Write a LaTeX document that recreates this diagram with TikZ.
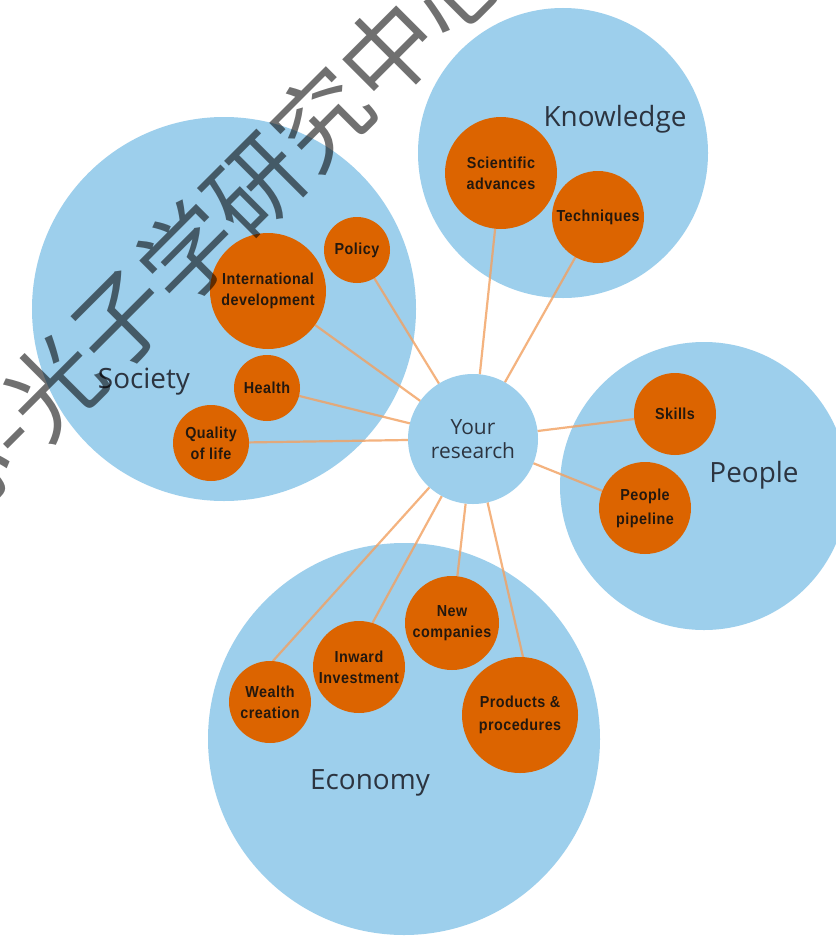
\documentclass[tikz,border=0pt]{standalone}
\usepackage{fontspec}
\setmainfont{Open Sans}
\newfontfamily\orfont{Liberation Sans}[FakeStretch=0.9,LetterSpace=3]
\newfontfamily\cjkfont{Noto Sans CJK SC}
\definecolor{skyb}{HTML}{9DCFEC}
\definecolor{orng}{HTML}{DC6400}
\definecolor{labc}{HTML}{24180E}
\definecolor{titc}{HTML}{2C3440}
\definecolor{lnk}{HTML}{F2A060}
\pgfdeclarelayer{paper}
\pgfdeclarelayer{back}
\pgfdeclarelayer{mid}
\pgfdeclarelayer{front}
\pgfsetlayers{paper,back,mid,main,front}
\begin{document}
\begin{tikzpicture}[x=1bp,y=-1bp,
  big/.style={circle,fill=skyb,draw=none,inner sep=0,outer sep=0},
  orb/.style={circle,fill=orng,draw=none,inner sep=0,outer sep=0},
  lab/.style={text=labc,font=\orfont\bfseries\fontsize{16}{21}\selectfont,align=center,inner sep=0},
  title/.style={text=titc,font=\fontsize{28}{32}\selectfont,inner sep=0,anchor=base},
  link/.style={draw=lnk,line width=2.2bp,draw opacity=0.8},
  wm/.style={font=\cjkfont\fontsize{95}{95}\selectfont,text=black,text opacity=0.56,inner sep=0,rotate=45}]
\useasboundingbox (0,0) rectangle (836,936);
\clip (0,0) rectangle (836,936);
\begin{pgfonlayer}{paper}
\fill[white] (0,0) rectangle (836,936);
\end{pgfonlayer}
% big circles
\begin{pgfonlayer}{back}
\node[big,minimum size=384bp] (society) at (224,309) {};
\node[big,minimum size=290bp] (knowledge) at (563,153) {};
\node[big,minimum size=288bp] (people) at (704,486) {};
\node[big,minimum size=392bp] (economy) at (404,739) {};
\end{pgfonlayer}
% centre
\node[big,minimum size=130bp,text=titc,font=\fontsize{21}{24}\selectfont,align=center] (res) at (473,439) {Your\\research};
% orange circles
\node[orb,minimum size=112bp,label={[lab]center:Scientific\\advances}] (sci) at (501,173) {};
\node[orb,minimum size=92bp,label={[lab]center:Techniques}] (tec) at (598,217) {};
\node[orb,minimum size=66bp,label={[lab]center:Policy}] (pol) at (357,250) {};
\node[orb,minimum size=116bp,label={[lab]center:International\\development}] (int) at (268,291) {};
\node[orb,minimum size=66bp,label={[lab]center:Health}] (hea) at (267,388) {};
\node[orb,minimum size=76bp,label={[lab]center:Quality\\of life}] (qol) at (211,443) {};
\node[orb,minimum size=82bp,label={[lab]center:Skills}] (ski) at (675,414) {};
\node[orb,minimum size=92bp,label={[lab,font=\orfont\bfseries\fontsize{16}{24}\selectfont]center:People\\pipeline}] (pip) at (645,508) {};
\node[orb,minimum size=82bp,label={[lab]center:Wealth\\creation}] (wea) at (270,702) {};
\node[orb,minimum size=92bp,label={[lab]center:Inward\\Investment}] (inw) at (359,667) {};
\node[orb,minimum size=94bp,label={[lab]center:New\\companies}] (new) at (452,623) {};
\node[orb,minimum size=116bp,label={[lab,font=\orfont\bfseries\fontsize{16}{23}\selectfont]center:Products \&\\procedures}] (prd) at (520,715) {};
% links
\begin{pgfonlayer}{mid}
\draw[link] (sci) -- (res);
\draw[link] (tec) -- (res);
\draw[link] (pol) -- (res);
\draw[link] (int) -- (res);
\draw[link] (hea) -- (res);
\draw[link] (qol) -- (res);
\draw[link] (ski) -- (res);
\draw[link] (pip) -- (res);
\draw[link] (wea.86) -- (res);
\draw[link] (inw.73) -- (res);
\draw[link] (new) -- (res);
\draw[link] (prd.87) -- (res);
\end{pgfonlayer}
% titles
\node[title] (tk) at (615,126) {Knowledge};
\node[title] (ts) at (144,388) {Society};
\node[title] (tp) at (754,482) {People};
\node[title] (te) at (370,789) {Economy};
% watermark
\begin{pgfonlayer}{front}
\node[wm,anchor=west] (wm1) at (20,420) {光子学研究中心};
\node[wm,anchor=east] (wm2) at (20,420) {心-};
\end{pgfonlayer}
\end{tikzpicture}
\end{document}
